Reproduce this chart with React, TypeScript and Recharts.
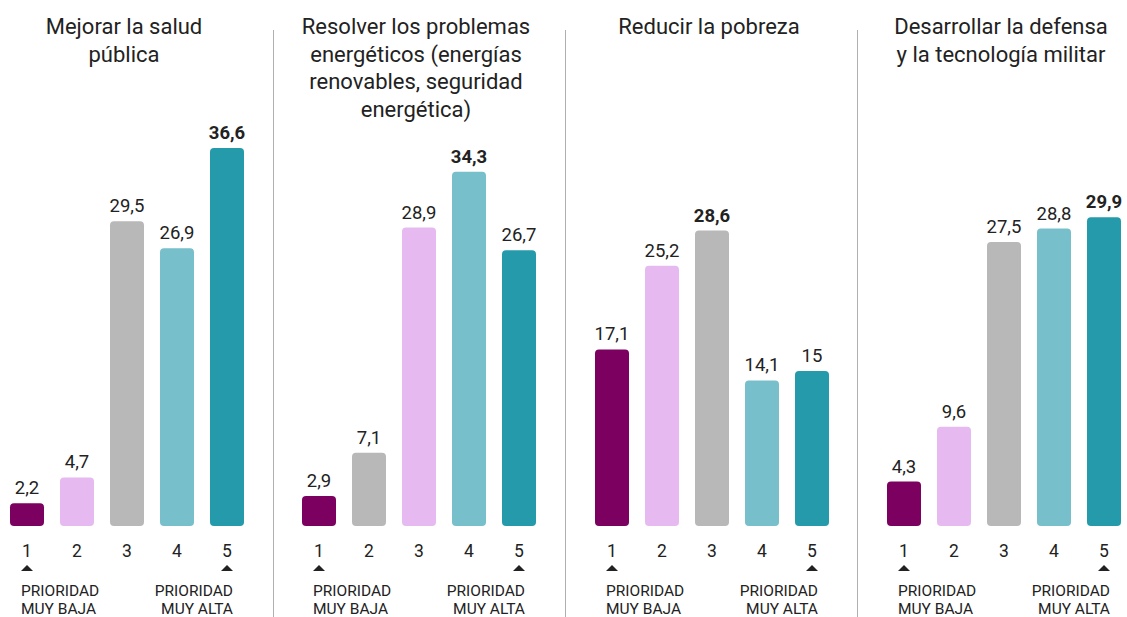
import { BarChart, Bar, XAxis, YAxis, Cell, LabelList } from "recharts";

const categories = ["1", "2", "3", "4", "5"];

const titles = [
  ["Mejorar la salud", "pública"],
  ["Resolver los problemas", "energéticos (energías", "renovables, seguridad", "energética)"],
  ["Reducir la pobreza"],
  ["Desarrollar la defensa", "y la tecnología militar"],
];

const saludValues = [2.2, 4.7, 29.5, 26.9, 36.6];
const energiaValues = [2.9, 7.1, 28.9, 34.3, 26.7];
const pobrezaValues = [17.1, 25.2, 28.6, 14.1, 15];
const defensaValues = [4.3, 9.6, 27.5, 28.8, 29.9];

const PURPLE = "#7b0060";
const PINK = "#e6baf0";
const GRAY = "#b8b8b8";
const LTEAL = "#77bfca";
const TEAL = "#259aab";

// the second panel swaps pink and gray
const panelColors = [
  [PURPLE, PINK, GRAY, LTEAL, TEAL],
  [PURPLE, GRAY, PINK, LTEAL, TEAL],
  [PURPLE, PINK, GRAY, LTEAL, TEAL],
  [PURPLE, PINK, GRAY, LTEAL, TEAL],
];

const lowLabel = ["PRIORIDAD", "MUY BAJA"];
const highLabel = ["PRIORIDAD", "MUY ALTA"];

const panelValues = [saludValues, energiaValues, pobrezaValues, defensaValues];
const panelLeft = [0, 292, 585, 877];
const dividers = [273, 565, 857];

const FONT = "Roboto, 'Noto Sans', sans-serif";
const TEXT = "#222";

const PriorityTick = ({ x, y, payload, index }: any) => {
  return (
    <g fontFamily={FONT} fill={TEXT}>
      <text x={x} y={y + 31} textAnchor="middle" fontSize={17.5}>
        {payload.value}
      </text>
      {index === 0 || index === 4 ? (
        <polygon points={`${x - 6},${y + 45} ${x + 6},${y + 45} ${x},${y + 39}`} fill={TEXT} />
      ) : null}
      {index === 0 ? (
        <text x={x - 6} textAnchor="start" fontSize={15.5}>
          <tspan x={x - 6} y={y + 70}>{lowLabel[0]}</tspan>
          <tspan x={x - 6} y={y + 88}>{lowLabel[1]}</tspan>
        </text>
      ) : null}
      {index === 4 ? (
        <text x={x + 6} textAnchor="end" fontSize={15.5}>
          <tspan x={x + 6} y={y + 70}>{highLabel[0]}</tspan>
          <tspan x={x + 6} y={y + 88}>{highLabel[1]}</tspan>
        </text>
      ) : null}
    </g>
  );
};

const Panel = ({ idx }: { idx: number }) => {
  const values = panelValues[idx];
  const max = Math.max(...values);
  const data = categories.map((c, i) => ({ name: c, value: values[i] }));

  const ValueLabel = (props: any) => {
    const { x, y, width, value } = props;
    return (
      <text
        x={x + width / 2}
        y={y - 9}
        textAnchor="middle"
        fontSize={18.5}
        fontFamily={FONT}
        fontWeight={value === max ? 700 : 400}
        fill={TEXT}
      >
        {String(value).replace(".", ",")}
      </text>
    );
  };

  return (
    <div style={{ position: "absolute", left: panelLeft[idx], top: 0, width: 254, height: 617 }}>
      <div
        style={{
          position: "absolute",
          left: -30,
          top: 13,
          width: 308,
          textAlign: "center",
          fontFamily: FONT,
          fontSize: 22,
          fontWeight: 400,
          lineHeight: "27.5px",
          color: TEXT,
          whiteSpace: "nowrap",
        }}
      >
        {titles[idx].map((t) => (
          <div key={t}>{t}</div>
        ))}
      </div>
      <BarChart width={254} height={617} data={data} margin={{ top: 148, right: 2, bottom: 0, left: 2 }}>
        <YAxis hide domain={[0, 36.6]} />
        <XAxis
          dataKey="name"
          axisLine={false}
          tickLine={false}
          tickSize={0}
          tickMargin={0}
          height={91}
          interval={0}
          tick={<PriorityTick />}
        />
        <Bar dataKey="value" barSize={34} radius={4} isAnimationActive={false}>
          {data.map((d, i) => (
            <Cell key={d.name} fill={panelColors[idx][i]} />
          ))}
          <LabelList dataKey="value" content={<ValueLabel />} />
        </Bar>
      </BarChart>
    </div>
  );
};

export default function App() {
  return (
    <div style={{ position: "absolute", left: 0, top: 0, width: 1127, height: 617, background: "#fff" }}>
      {dividers.map((x) => (
        <div
          key={x}
          style={{ position: "absolute", left: x, top: 30, width: 1, height: 587, background: "#b0b0b0" }}
        />
      ))}
      {[0, 1, 2, 3].map((i) => (
        <Panel key={i} idx={i} />
      ))}
    </div>
  );
}
